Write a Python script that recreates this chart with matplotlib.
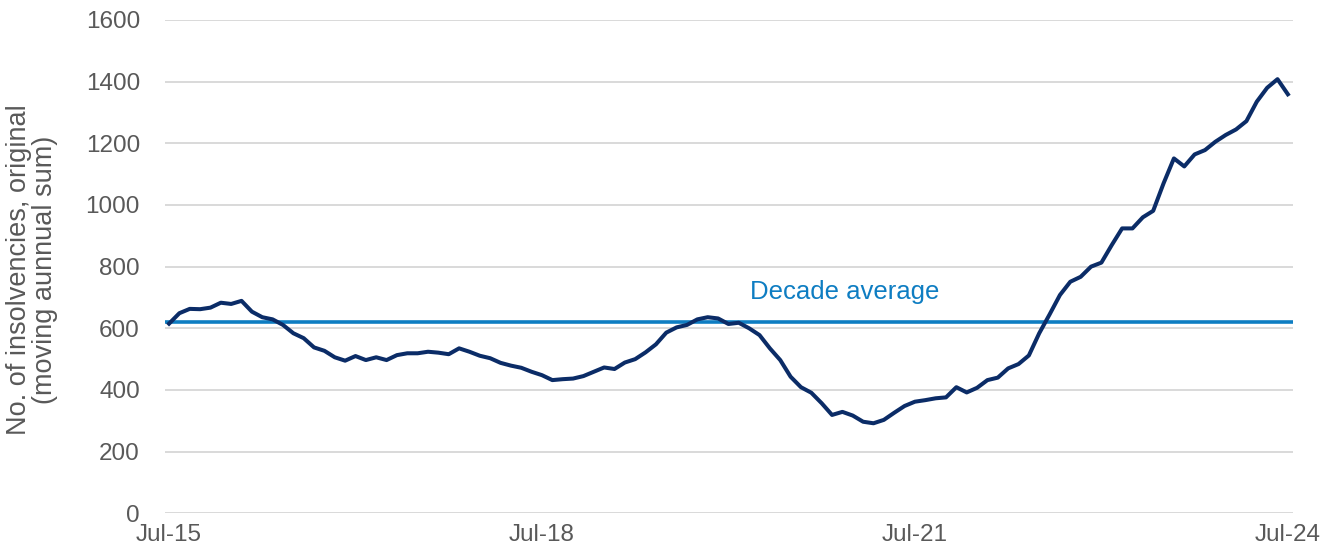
import matplotlib
matplotlib.use("Agg")
import matplotlib.pyplot as plt
import pandas as pd

# monthly moving annual sum of insolvencies, Jul-15 .. Jul-24
months = pd.date_range("2015-07-01", "2024-07-01", freq="MS")
insolvencies = [
    615, 649, 663, 662, 667, 683, 679, 689, 654, 636, 629, 611,
    584, 568, 538, 527, 506, 495, 510, 497, 506, 497, 513, 519,
    519, 524, 521, 516, 535, 524, 511, 503, 488, 479, 472, 459,
    448, 432, 435, 437, 445, 459, 473, 468, 489, 500, 522, 548,
    586, 603, 611, 629, 636, 632, 614, 618, 600, 578, 535, 497,
    443, 409, 391, 357, 319, 329, 317, 297, 292, 303, 326, 348,
    362, 367, 373, 376, 409, 392, 407, 432, 440, 470, 484, 512,
    584, 645, 708, 751, 767, 800, 813, 870, 924, 924, 960, 981,
    1070, 1151, 1125, 1164, 1178, 1205, 1227, 1245, 1272, 1335, 1380, 1408,
    1359,
]
decade_avg = 621
tick_every = 36

labels = [m.strftime("%b-%y") for m in months]
x = list(range(len(months)))

plt.rcParams["font.family"] = ["Liberation Sans", "DejaVu Sans"]
grey = "#595959"

fig = plt.figure(figsize=(13.38, 5.58), dpi=100)
ax = fig.add_axes([0.1233, 0.0801, 0.8431, 0.8841])

ax.plot(x, insolvencies, color="#0B2C67", lw=2.9, zorder=3, solid_joinstyle="round")
ax.axhline(decade_avg, color="#0E7DC2", lw=2.6, zorder=2)
ax.text(56.1, 718, "Decade average", color="#0E7DC2", fontsize=18.5, va="center", ha="left")

ax.set_ylim(0, 1600)
ax.set_xlim(-0.39, 108.5)
ax.set_yticks(range(0, 1601, 200))
ax.set_xticks(x[::tick_every])
ax.set_xticklabels(labels[::tick_every])

ax.grid(axis="y", color="#D9D9D9", lw=1.4)
ax.set_axisbelow(True)
for s in ax.spines.values():
    s.set_visible(False)
ax.tick_params(axis="both", length=0, labelsize=17.5, colors=grey)
ax.tick_params(axis="y", pad=18)
ax.tick_params(axis="x", pad=8)

ax.set_ylabel("No. of insolvencies, original\n(moving aunnual sum)",
              fontsize=19.5, color=grey, linespacing=1.0)
ax.yaxis.set_label_coords(-0.0945, 0.493)

fig.savefig("out.png", dpi=100)
